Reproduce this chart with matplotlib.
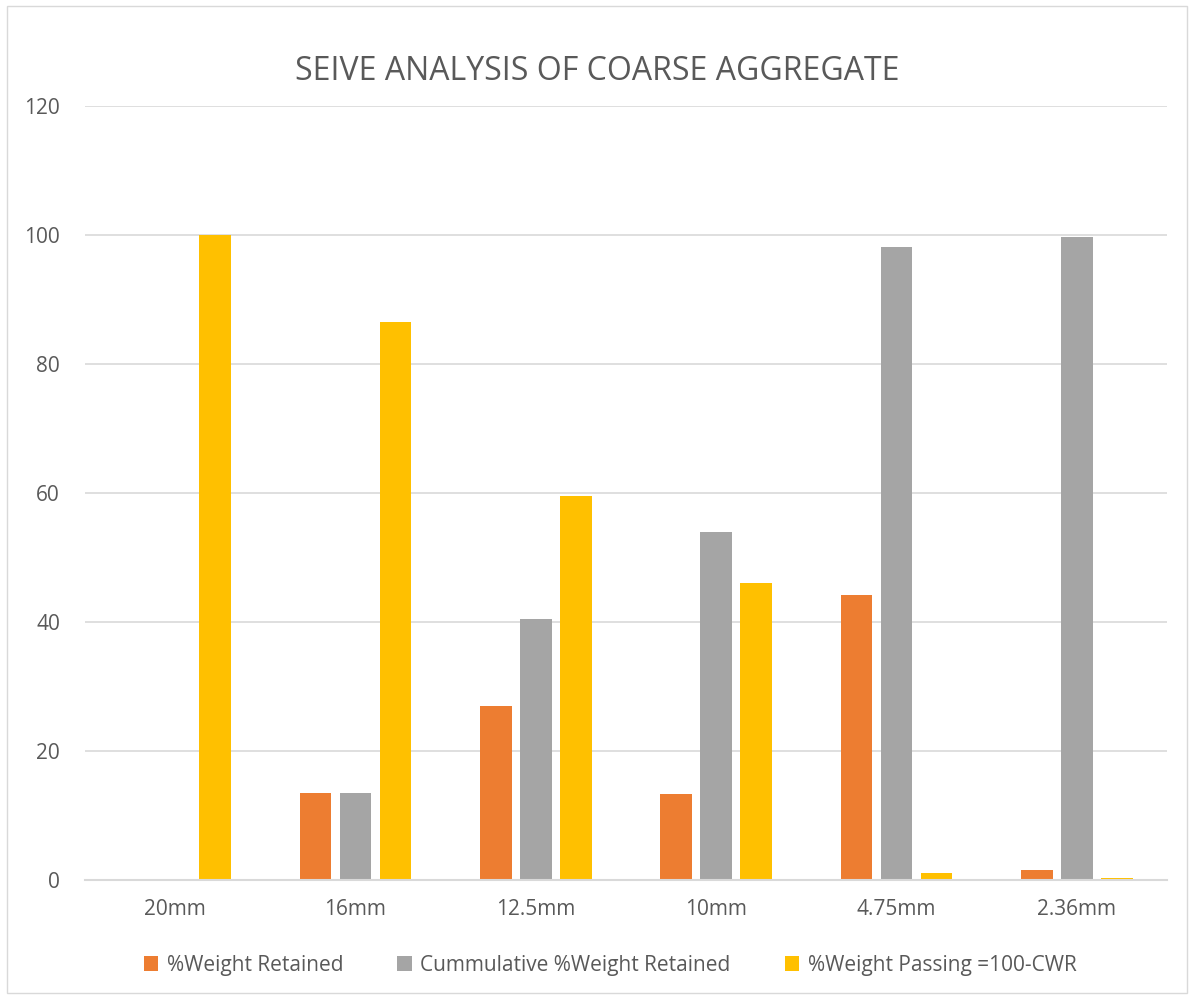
import numpy as np
import matplotlib.pyplot as plt
from matplotlib.patches import Rectangle

plt.rcParams['font.family'] = ['Open Sans', 'DejaVu Sans']

# sieve sizes and the three series
sieves = ['20mm', '16mm', '12.5mm', '10mm', '4.75mm', '2.36mm']
wt_retained = [0, 13.5, 27.0, 13.3, 44.2, 1.6]
cum_retained = [0, 13.5, 40.5, 54.0, 98.1, 99.7]
wt_passing = [100, 86.5, 59.5, 46.0, 1.1, 0.3]
labels = ['%Weight Retained', 'Cummulative %Weight Retained', '%Weight Passing =100-CWR']
colors = ['#ED7D31', '#A5A5A5', '#FFC000']

fig = plt.figure(figsize=(11.94, 9.99), dpi=100)
ax = fig.add_axes([85 / 1194, 119 / 999, 1082 / 1194, 774 / 999])

x = np.arange(len(sieves))
w = 0.175
off = 0.222
for i, (vals, lab, c) in enumerate(zip([wt_retained, cum_retained, wt_passing], labels, colors)):
    ax.bar(x + (i - 1) * off, vals, w, color=c, label=lab, zorder=3)

ax.set_xlim(-0.5, 5.5)
ax.set_ylim(0, 120)
ax.set_yticks(range(0, 121, 20))
ax.set_xticks(x)
ax.set_xticklabels(sieves)
ax.grid(axis='y', color='#D9D9D9', linewidth=1.2, zorder=0)
for s in ['top', 'right', 'left']:
    ax.spines[s].set_visible(False)
ax.spines['bottom'].set_color('#D9D9D9')
ax.spines['bottom'].set_linewidth(1.5)
ax.spines['bottom'].set_zorder(4)
ax.tick_params(length=0, labelsize=15, colors='#595959')
ax.tick_params(axis='x', pad=14)
ax.tick_params(axis='y', pad=18)

fig.text(0.5, 1 - 72 / 999, 'SEIVE ANALYSIS OF COARSE AGGREGATE', ha='center', va='center',
         fontsize=23, color='#595959')

fig.legend(loc='center', bbox_to_anchor=(0.511, 1 - 965 / 999), ncol=3, frameon=False,
           fontsize=15, labelcolor='#595959', handlelength=0.7, handleheight=0.7,
           handletextpad=0.4, columnspacing=2.6)

fig.patches.append(Rectangle((7 / 1194, 6 / 999), 1180 / 1194, 987 / 999, transform=fig.transFigure,
                             fill=False, edgecolor='#D9D9D9', linewidth=1))

fig.savefig('out.png', dpi=100)
